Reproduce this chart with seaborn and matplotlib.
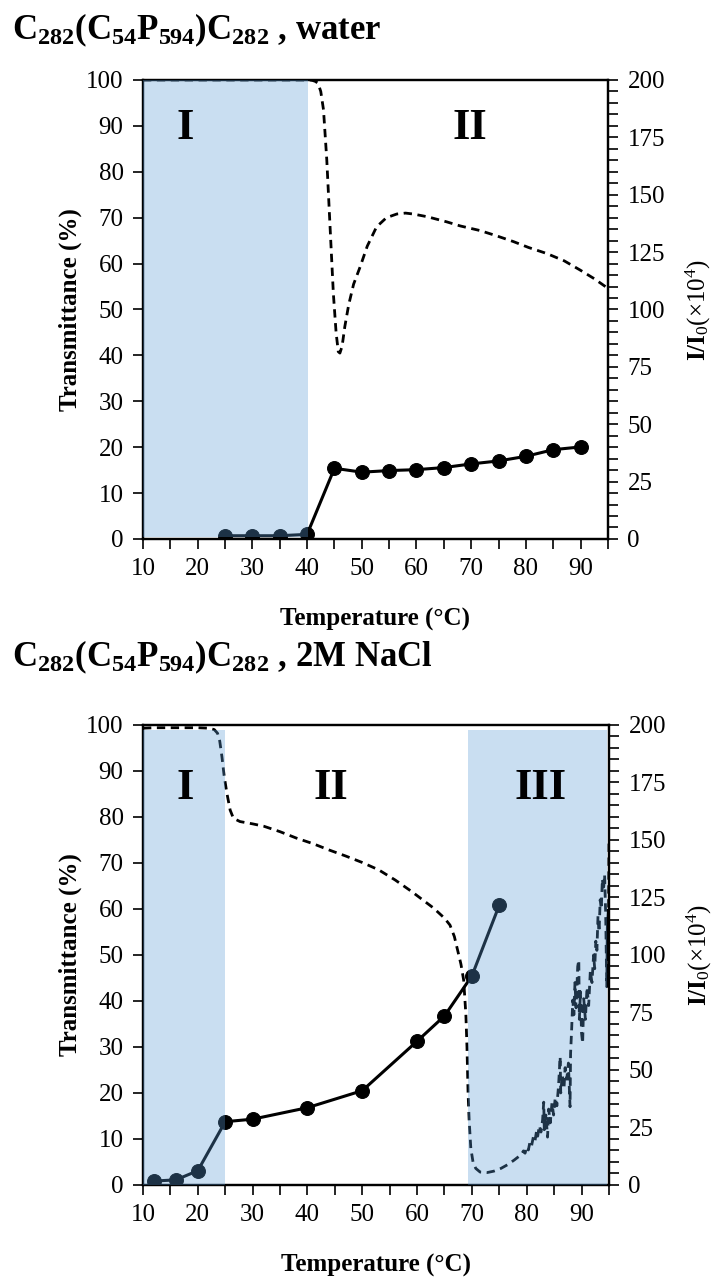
import numpy as np
import pandas as pd
import matplotlib
matplotlib.use("Agg")
import matplotlib.pyplot as plt
from matplotlib.ticker import MultipleLocator
import seaborn as sns

# ---------------- data ----------------
# Panel 1 (water): transmittance curve (%)
t1_trans_T = [10, 20, 30, 40, 40.5, 41, 41.5, 42, 42.5, 43, 43.6, 44.2, 44.8, 45.3, 45.7, 46.0,
              46.4, 46.9, 47.6, 48.5, 49.7, 51, 52.7, 54.5, 56.4, 58, 59.4, 62, 65.5, 68, 71.6,
              74.5, 77.7, 80.5, 83.8, 87, 89.9, 92.5, 95]
t1_trans_v = [100, 100, 100, 100, 100, 99.9, 99.7, 99.3, 97.5, 93.5, 82.6, 68, 53.5, 45, 40.8, 40.5,
              42, 46.3, 51, 55.5, 59.3, 63.8, 68, 70, 70.8, 71, 70.8, 70.2, 69.1, 68.2, 67.2,
              66.1, 64.8, 63.5, 62.2, 60.6, 58.6, 56.7, 54.6]
# Panel 1: I/I0 (x10^4)
t1_int_T = [25, 30, 35, 40, 45, 50, 55, 60, 65, 70, 75, 80, 85, 90]
t1_int_v = [1.4, 1.4, 1.4, 2.0, 30.8, 29.1, 29.8, 30.2, 31.1, 32.7, 34.0, 36.0, 38.9, 40.1]

# Panel 2 (2M NaCl): transmittance curve (%)
t2_trans_T = [10, 12, 14, 16, 18, 20, 22, 23, 23.6, 24.0, 24.4, 24.8, 25.3, 25.9, 26.5, 27.7,
              30, 32, 35, 38, 41, 44, 47, 50, 53, 56, 59, 61, 63, 65, 66, 66.8, 67.4, 68,
              68.5, 68.9, 69.1, 69.3, 69.5, 69.8, 70.2, 70.7, 71.5, 72.8, 74, 75.3, 76.5, 77.7,
              79.0, 79.4, 79.7, 80.0, 80.3, 80.6, 80.9, 81.2, 81.5, 81.8, 82.0, 82.3, 82.6, 82.9,
              83.1, 83.2, 83.5, 83.8, 84.0, 84.3, 84.6, 84.9, 85.2, 85.5, 85.8, 86.1, 86.2, 86.5,
              86.8, 87.0, 87.3, 87.6, 87.9, 88.0, 88.2, 88.4, 88.6, 88.8, 89.0, 89.3, 89.5, 89.6,
              89.8, 90.0, 90.2, 90.4, 90.7, 91.0, 91.3, 91.6, 91.9, 92.2, 92.4, 92.6, 92.8, 93.0,
              93.2, 93.4, 93.6, 93.8, 94.0, 94.2, 94.4, 94.6, 94.7, 94.9, 94.9, 95.0]
t2_trans_v = [99.3, 99.4, 99.4, 99.4, 99.4, 99.4, 99.3, 99.0, 98.2, 96.5, 93.1, 89.0, 85.2, 81.5, 79.7, 79.0,
              78.5, 78.0, 76.8, 75.4, 74.2, 72.8, 71.5, 70.1, 68.5, 66.3, 63.8, 62.0, 60.2, 58.0, 56.5, 54.0, 51.0, 48.0,
              44.5, 37.0, 30.0, 20.0, 14.0, 8.0, 5.0, 3.6, 2.8, 2.7, 3.0, 3.6, 4.4, 5.4,
              6.6, 7.4, 6.9, 8.3, 7.6, 9.4, 8.6, 10.4, 9.5, 11.8, 10.6, 12.9, 11.5, 14.2,
              18.0, 12.0, 15.2, 10.4, 16.5, 13.5, 17.8, 15.2, 19.0, 17.2, 21.5, 27.9, 20.0, 24.0,
              21.0, 25.5, 23.0, 26.5, 17.0, 28.6, 34.0, 40.2, 37.0, 44.0, 38.5, 47.5, 48.9, 36.0,
              42.0, 33.0, 30.8, 40.5, 36.0, 43.0, 39.0, 46.5, 44.0, 50.0, 47.0, 53.0, 51.0, 58.5,
              55.0, 62.0, 60.0, 66.5, 64.0, 67.5, 59.0, 43.1, 56.0, 60.0, 49.0, 74.6]
# Panel 2: I/I0 (x10^4)
t2_int_T = [12, 16, 20, 25, 30, 40, 50, 60, 65, 70, 75]
t2_int_v = [1.7, 2.2, 6.2, 27.5, 28.6, 33.6, 41.0, 62.5, 73.5, 90.9, 121.7]

titles = [r"$\mathbf{C_{282}(C_{54}P_{594})C_{282}}$ , water",
          r"$\mathbf{C_{282}(C_{54}P_{594})C_{282}}$ , 2M NaCl"]

# ---------------- style ----------------
sns.set_theme(style="ticks")
plt.rcParams['font.family'] = ['Liberation Serif', 'DejaVu Serif']
plt.rcParams['mathtext.fontset'] = 'custom'
plt.rcParams['mathtext.rm'] = 'Liberation Serif'
plt.rcParams['mathtext.bf'] = 'Liberation Serif:bold'
plt.rcParams['mathtext.it'] = 'Liberation Serif:italic'
plt.rcParams['text.color'] = 'black'
plt.rcParams['axes.labelcolor'] = 'black'
plt.rcParams['xtick.color'] = 'black'
plt.rcParams['ytick.color'] = 'black'

SHADE = "#5B9BD5"
FS_TICK = 18
FS_LAB = 18

fig = plt.figure(figsize=(7.16, 12.82), dpi=100)
ax_top = fig.add_axes([0.1997, 0.5796, 0.6494, 0.358])
ax_bot = fig.add_axes([0.1997, 0.0757, 0.6508, 0.3588])


def style_axes(ax, ax2):
    ax.set_xlim(10, 95)
    ax.set_ylim(0, 100)
    ax2.set_ylim(0, 200)
    ax.xaxis.set_major_locator(MultipleLocator(10))
    ax.xaxis.set_minor_locator(MultipleLocator(5))
    ax.yaxis.set_major_locator(MultipleLocator(10))
    ax2.yaxis.set_major_locator(MultipleLocator(25))
    ax2.yaxis.set_minor_locator(MultipleLocator(5))
    for a in (ax, ax2):
        for s in a.spines.values():
            s.set_visible(True)
            s.set_linewidth(1.6)
            s.set_color("black")
        a.tick_params(which="both", direction="out", length=7, width=1.2,
                      colors="black", labelcolor="black", labelsize=FS_TICK, pad=7)
    ax.tick_params(axis="y", which="both", left=True, right=False)
    ax2.tick_params(axis="y", which="both", left=False, right=True)
    ax.set_xlabel("Temperature (°C)", fontsize=FS_LAB, fontweight="bold", labelpad=20,
                  color="black")
    ax.set_ylabel("Transmittance (%)", fontsize=FS_LAB, fontweight="bold", labelpad=3,
                  color="black")
    ax2.set_ylabel(r"$\mathbf{I/I}_{0}$(×10$^{4}$)", fontsize=FS_LAB, labelpad=14,
                   color="black")
    ax.grid(False)
    ax2.grid(False)


def region_label(ax, ax2, x, y, s):
    ax2.text(x, y, s, fontsize=32, fontweight="bold", ha="center", va="center",
             color="black", transform=ax.transData, zorder=12)


# ---------- top panel ----------
ax2_top = ax_top.twinx()
sns.lineplot(x=t1_trans_T, y=t1_trans_v, ax=ax_top, color="black", linewidth=2.0,
             linestyle="--", dashes=False, estimator=None, sort=False)
for l in ax_top.lines:
    l.set_dashes((3, 2))
sns.lineplot(x=t1_int_T, y=t1_int_v, ax=ax2_top, color="black", linewidth=2.2,
             marker="o", markersize=10, markeredgecolor="black", estimator=None, sort=False)
style_axes(ax_top, ax2_top)
ax2_top.axvspan(10, 40.2, ymin=0.005, ymax=1.0, color=SHADE, alpha=0.33, lw=0, zorder=10)
region_label(ax_top, ax2_top, 17.7, 89.5, "I")
region_label(ax_top, ax2_top, 69.8, 89.5, "II")

# ---------- bottom panel ----------
ax2_bot = ax_bot.twinx()
sns.lineplot(x=t2_trans_T, y=t2_trans_v, ax=ax_bot, color="black", linewidth=2.0,
             linestyle="--", dashes=False, estimator=None, sort=False)
for l in ax_bot.lines:
    l.set_dashes((3, 2))
sns.lineplot(x=t2_int_T, y=t2_int_v, ax=ax2_bot, color="black", linewidth=2.2,
             marker="o", markersize=10, markeredgecolor="black", estimator=None, sort=False)
style_axes(ax_bot, ax2_bot)
ax2_bot.axvspan(10, 24.9, ymin=0.0, ymax=0.99, color=SHADE, alpha=0.33, lw=0, zorder=10)
ax2_bot.axvspan(69.2, 94.6, ymin=0.0, ymax=0.99, color=SHADE, alpha=0.33, lw=0, zorder=10)
region_label(ax_bot, ax2_bot, 17.7, 86.3, "I")
region_label(ax_bot, ax2_bot, 44.2, 86.3, "II")
region_label(ax_bot, ax2_bot, 82.6, 86.3, "III")

fig.text(12 / 716, 1 - 39 / 1282, titles[0], fontsize=25, fontweight="bold", ha="left",
         va="baseline", color="black")
fig.text(12 / 716, 1 - 666 / 1282, titles[1], fontsize=25, fontweight="bold", ha="left",
         va="baseline", color="black")

fig.savefig("out.png", dpi=100)
